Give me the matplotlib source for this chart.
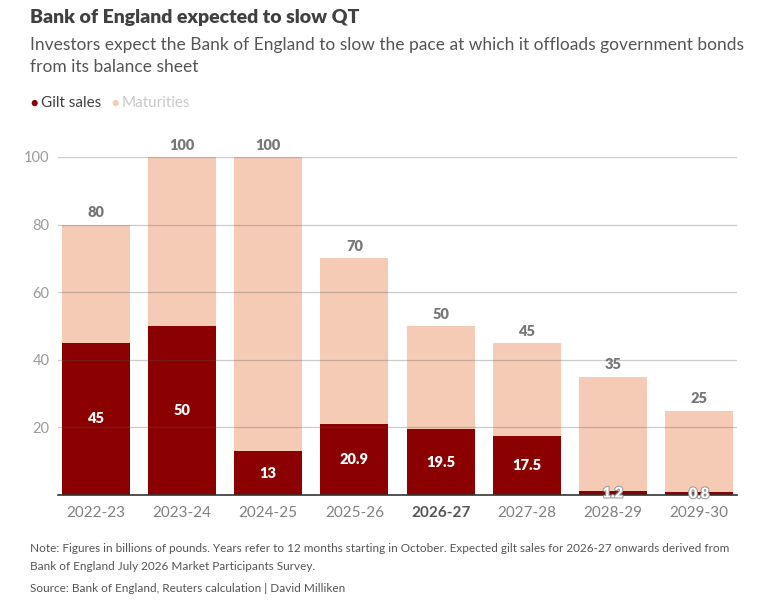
import numpy as np
import matplotlib.pyplot as plt
import matplotlib.patheffects as pe

# data (billions of pounds)
years = ['2022-23', '2023-24', '2024-25', '2025-26', '2026-27', '2027-28', '2028-29', '2029-30']
gilt_sales = [45, 50, 13, 20.9, 19.5, 17.5, 1.2, 0.8]
maturities = [35, 50, 87, 49.1, 30.5, 27.5, 33.8, 24.2]
totals = [80, 100, 100, 70, 50, 45, 35, 25]
gilt_labels = ['45', '50', '13', '20.9', '19.5', '17.5', '1.2', '0.8']
yticks = [20, 40, 60, 80, 100]

dark = '#8b0000'
light = '#f5cbb6'

plt.rcParams['font.family'] = ['Lato', 'DejaVu Sans']

fig = plt.figure(figsize=(7.66, 6.02), dpi=100)
ax = fig.add_axes([58/766, 1 - 495/602, (737 - 58)/766, (495 - 157)/602])

x = np.arange(len(years))
w = 0.79
ax.bar(x, gilt_sales, width=w, color=dark, zorder=2)
ax.bar(x, maturities, width=w, bottom=gilt_sales, color=light, zorder=2)

ax.set_xlim(-0.44, len(years) - 1 + 0.44)
ax.set_ylim(0, 100)
ax.set_yticks(yticks)
ax.set_yticklabels([str(t) for t in yticks], color='#9a9a9a', fontsize=10.5)
ax.yaxis.grid(True, color='#555555', alpha=0.3, linewidth=0.9, zorder=3)
ax.set_axisbelow(False)
ax.tick_params(axis='y', length=0, pad=6)
ax.tick_params(axis='x', length=0, pad=8)
ax.set_xticks(x)
ax.set_xticklabels(years, fontsize=11, color='#808080')
for lbl, yr in zip(ax.get_xticklabels(), years):
    if yr == '2026-27':
        lbl.set_fontweight('bold')
        lbl.set_color('#555555')

for s in ['top', 'right', 'left']:
    ax.spines[s].set_visible(False)
ax.spines['bottom'].set_color('#333333')
ax.spines['bottom'].set_linewidth(1.2)
ax.spines['bottom'].set_zorder(4)

# labels
for i in range(len(years)):
    ax.text(x[i], totals[i] + 3.5, str(totals[i]), ha='center', va='center',
            fontsize=10.5, fontweight='heavy', color='#777777', clip_on=False)
    ax.text(x[i], gilt_sales[i] / 2, gilt_labels[i], ha='center', va='center',
            fontsize=10.5, fontweight='heavy', color='white', zorder=5,
            path_effects=[pe.withStroke(linewidth=1.5, foreground='#999999')] if gilt_sales[i] < 5 else None)

# header
fig.text(30/766, 1 - 18/602, 'Bank of England expected to slow QT', fontsize=14,
         fontweight='heavy', color='#404040', va='center', ha='left')
fig.text(30/766, 1 - 45/602, 'Investors expect the Bank of England to slow the pace at which it offloads government bonds',
         fontsize=12.5, color='#555555', va='center', ha='left')
fig.text(30/766, 1 - 67/602, 'from its balance sheet', fontsize=12.5, color='#555555', va='center', ha='left')

# legend
fig.text(30/766, 1 - 103/602, '\u25cf', fontsize=9, color=dark, va='center', ha='left')
fig.text(41/766, 1 - 103/602, 'Gilt sales', fontsize=11, color='#404040', va='center', ha='left')
fig.text(111/766, 1 - 103/602, '\u25cf', fontsize=9, color=light, va='center', ha='left')
fig.text(122/766, 1 - 103/602, 'Maturities', fontsize=11, color='#c8c8c8', va='center', ha='left')

# footer
fig.text(30/766, 1 - 549/602, 'Note: Figures in billions of pounds. Years refer to 12 months starting in October. '
         'Expected gilt sales for 2026-27 onwards derived from', fontsize=8.5, color='#555555', va='center', ha='left')
fig.text(30/766, 1 - 566/602, 'Bank of England July 2026 Market Participants Survey.', fontsize=8.5,
         color='#555555', va='center', ha='left')
fig.text(30/766, 1 - 589/602, 'Source: Bank of England, Reuters calculation | David Milliken', fontsize=8.5,
         color='#555555', va='center', ha='left')

fig.savefig('out.png', dpi=100)
